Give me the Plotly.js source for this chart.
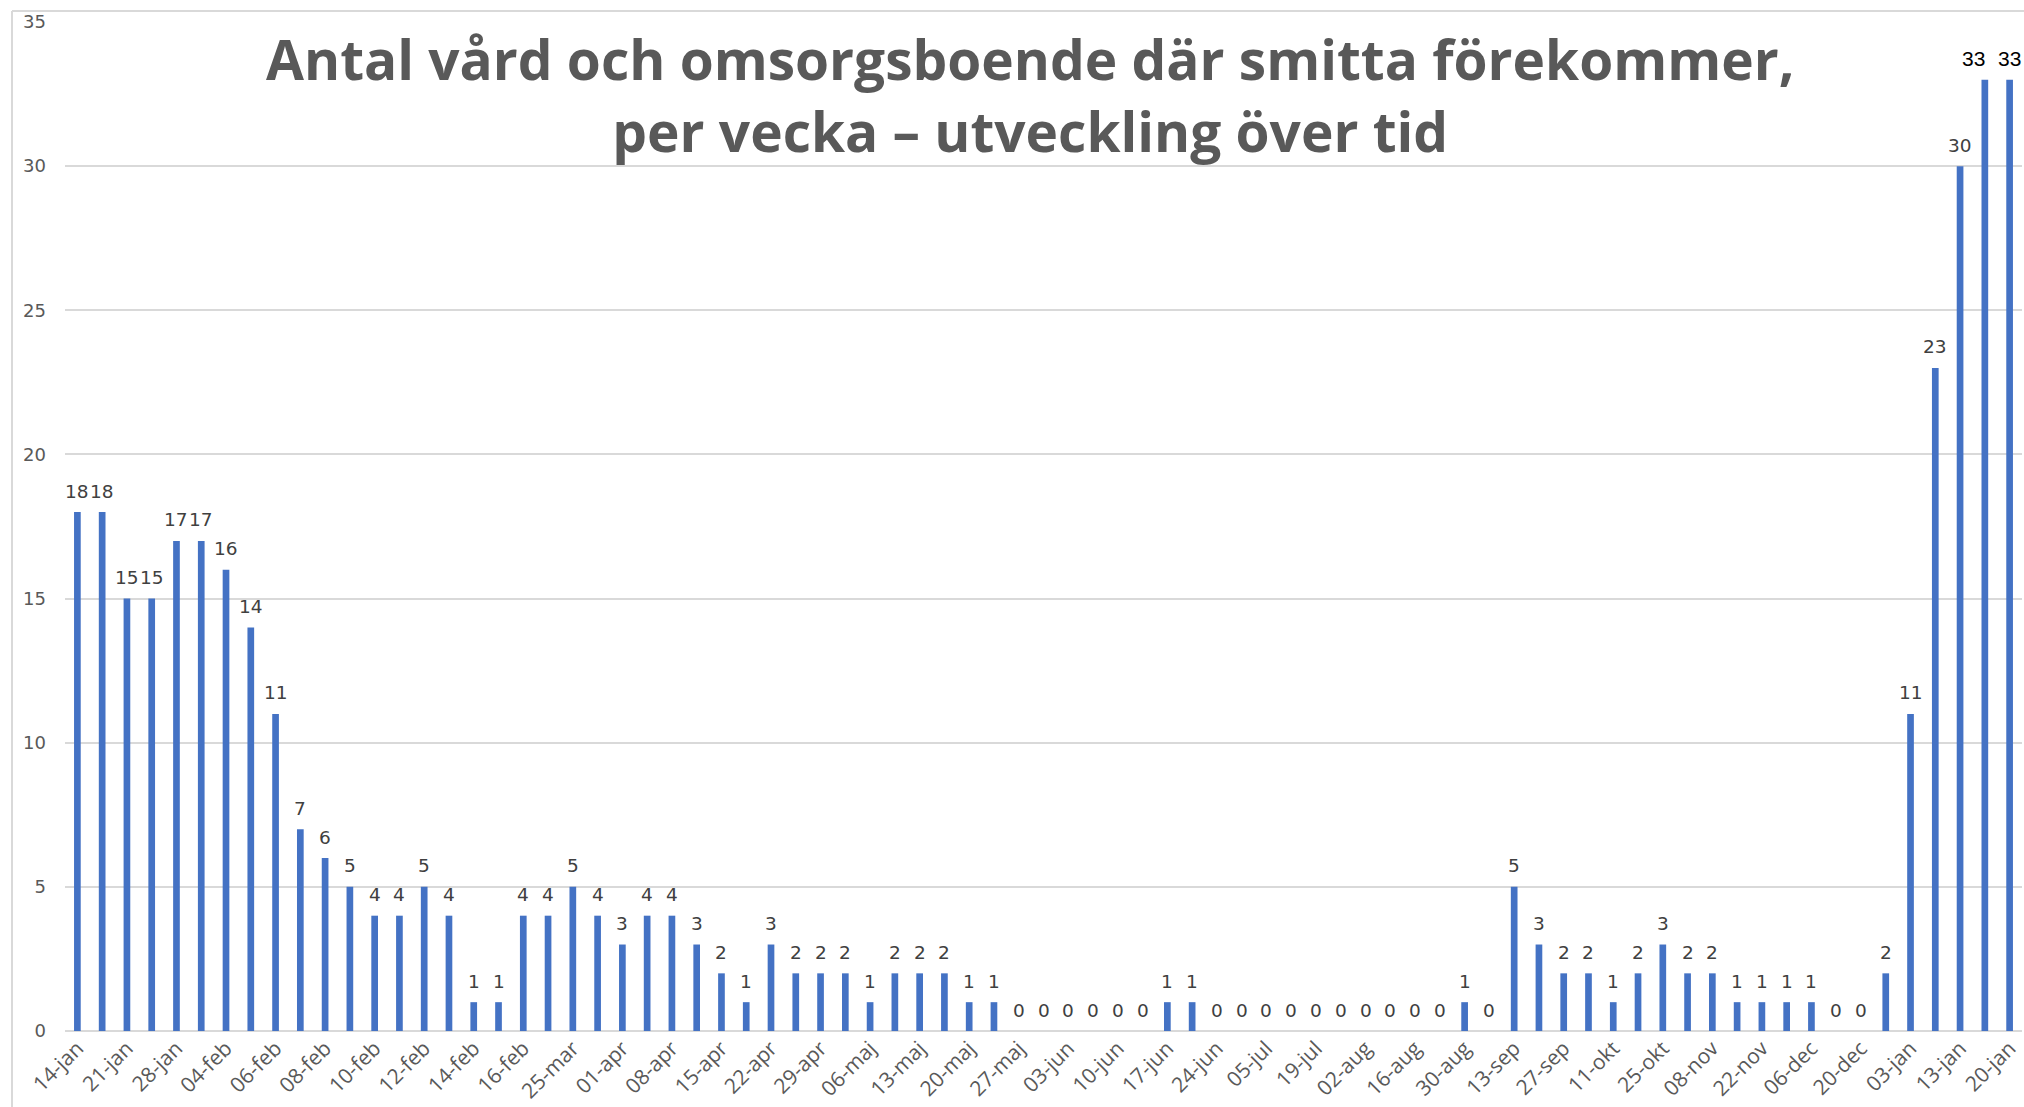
<!DOCTYPE html>
<html>
<head>
<meta charset="utf-8">
<script src="https://cdn.plot.ly/plotly-3.0.1.min.js"></script>
<style>
  html, body { margin: 0; padding: 0; background: #ffffff; }
  #chart { width: 2024px; height: 1107px; }
</style>
</head>
<body>
<div id="chart"></div>
<script>
// Weekly values (one bar per week)
const values = [
  18, 18, 15, 15, 17, 17, 16, 14, 11, 7,
  6, 5, 4, 4, 5, 4, 1, 1, 4, 4,
  5, 4, 3, 4, 4, 3, 2, 1, 3, 2,
  2, 2, 1, 2, 2, 2, 1, 1, 0, 0,
  0, 0, 0, 0, 1, 1, 0, 0, 0, 0,
  0, 0, 0, 0, 0, 0, 1, 0, 5, 3,
  2, 2, 1, 2, 3, 2, 2, 1, 1, 1,
  1, 0, 0, 2, 11, 23, 30, 33, 33
];

// Tick labels (shown on every other week)
const tickLabels = [
  "14-jan", "21-jan", "28-jan", "04-feb", "06-feb", "08-feb", "10-feb", "12-feb",
  "14-feb", "16-feb", "25-mar", "01-apr", "08-apr", "15-apr", "22-apr", "29-apr",
  "06-maj", "13-maj", "20-maj", "27-maj", "03-jun", "10-jun", "17-jun", "24-jun",
  "05-jul", "19-jul", "02-aug", "16-aug", "30-aug", "13-sep", "27-sep", "11-okt",
  "25-okt", "08-nov", "22-nov", "06-dec", "20-dec", "03-jan", "13-jan", "20-jan"
];

const titleText = "Antal vård och omsorgsboende där smitta förekommer,<br>per vecka – utveckling över tid";

const xIdx = values.map((v, i) => i);
const tickVals = tickLabels.map((t, i) => i * 2);

const labelFont = { family: "DejaVu Sans", size: 18.5, color: "#404040" };
const lastFont = { family: "Liberation Sans", size: 21, color: "#000000" };

const n = values.length;
const annotations = values.map((v, i) => ({
  x: i, y: v, xref: "x", yref: "y",
  text: String(v),
  showarrow: false,
  xanchor: "center", yanchor: "middle",
  yshift: 21,
  xshift: i === n - 2 ? -11 : 0,
  font: i >= n - 2 ? lastFont : labelFont
}));

const trace = {
  type: "bar",
  x: xIdx,
  y: values,
  width: 0.27,
  marker: { color: "#4472C4" },
  hoverinfo: "x+y"
};

const layout = {
  width: 2024,
  height: 1107,
  paper_bgcolor: "#ffffff",
  plot_bgcolor: "#ffffff",
  margin: { l: 65, r: 2, t: 22, b: 76 },
  showlegend: false,
  title: {
    text: titleText,
    x: 0.509, xref: "container", xanchor: "center",
    y: 1 - 80 / 1107, yref: "container", yanchor: "top",
    font: { family: "Open Sans", size: 55, color: "#595959", weight: "bold" }
  },
  xaxis: {
    range: [-0.5, n - 0.5],
    tickmode: "array",
    tickvals: tickVals,
    ticktext: tickLabels,
    tickangle: -45,
    tickfont: { family: "Open Sans", size: 21, color: "#595959" },
    showgrid: false,
    zeroline: false,
    showline: false,
    ticks: ""
  },
  yaxis: {
    range: [0, 35],
    dtick: 5,
    tick0: 0,
    showgrid: true,
    gridcolor: "#d9d9d9",
    gridwidth: 2,
    zeroline: true,
    zerolinecolor: "#d9d9d9",
    zerolinewidth: 2,
    showline: false,
    ticks: "",
    ticklabelstandoff: 18,
    tickfont: { family: "DejaVu Sans", size: 18, color: "#595959" }
  },
  annotations: annotations,
  shapes: [
    { type: "line", xref: "paper", yref: "paper",
      x0: (12 - 65) / 1957, x1: (12 - 65) / 1957, y0: (1031 - 11) / 1009, y1: (1031 - 1110) / 1009,
      line: { color: "#d9d9d9", width: 2 } },
    { type: "line", xref: "paper", yref: "paper",
      x0: (12 - 65) / 1957, x1: (2030 - 65) / 1957, y0: (1031 - 11) / 1009, y1: (1031 - 11) / 1009,
      line: { color: "#d9d9d9", width: 2 } }
  ]
};

Plotly.newPlot("chart", [trace], layout, { displayModeBar: false, responsive: false });
</script>
</body>
</html>
